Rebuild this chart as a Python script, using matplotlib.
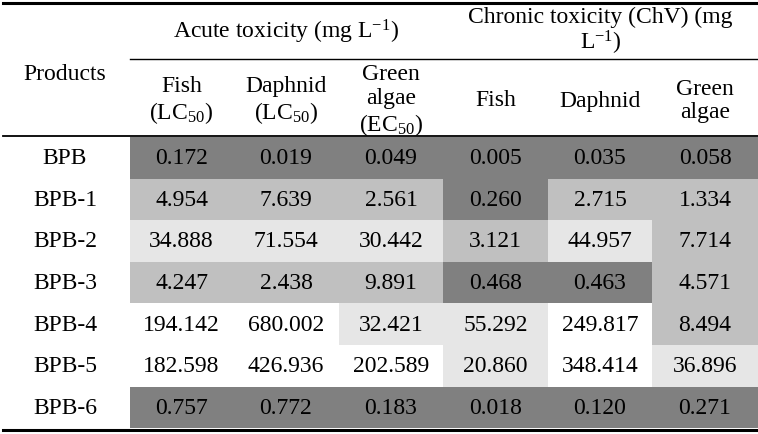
import matplotlib
matplotlib.use('Agg')
import matplotlib.pyplot as plt
from matplotlib.patches import Rectangle
import numpy as np

# table data
products = ['BPB', 'BPB-1', 'BPB-2', 'BPB-3', 'BPB-4', 'BPB-5', 'BPB-6']
acute_fish = [0.172, 4.954, 34.888, 4.247, 194.142, 182.598, 0.757]
acute_daphnid = [0.019, 7.639, 71.554, 2.438, 680.002, 426.936, 0.772]
acute_algae = [0.049, 2.561, 30.442, 9.891, 32.421, 202.589, 0.183]
chronic_fish = [0.005, 0.260, 3.121, 0.468, 55.292, 20.860, 0.018]
chronic_daphnid = [0.035, 2.715, 44.957, 0.463, 249.817, 348.414, 0.120]
chronic_algae = [0.058, 1.334, 7.714, 4.571, 8.494, 36.896, 0.271]

sub_headers = [r'Fish' '\n' r'(LC$_{50}$)', r'Daphnid' '\n' r'(LC$_{50}$)',
               r'Green' '\n' r'algae' '\n' r'(EC$_{50}$)',
               'Fish', 'Daphnid', 'Green\nalgae']

# toxicity classes -> shade
def shade(v):
    if v < 1:
        return '#808080'
    elif v < 10:
        return '#c0c0c0'
    elif v < 100:
        return '#e6e6e6'
    return '#ffffff'

plt.rcParams['font.family'] = ['Liberation Serif', 'DejaVu Serif']
plt.rcParams['mathtext.fontset'] = 'custom'
plt.rcParams['mathtext.rm'] = 'Liberation Serif'
plt.rcParams['mathtext.it'] = 'Liberation Serif'

fig = plt.figure(figsize=(7.58, 4.35), dpi=100)
ax = fig.add_axes([0, 0, 1, 1])
ax.set_xlim(0, 758)
ax.set_ylim(435, 0)
ax.axis('off')

cols = [130, 233, 339, 443, 548, 652, 758]
row_top = 138
row_h = 41.6
fs = 17

data = np.array([acute_fish, acute_daphnid, acute_algae,
                 chronic_fish, chronic_daphnid, chronic_algae]).T

# cells
for i, name in enumerate(products):
    y0 = row_top + i * row_h
    yc = y0 + row_h / 2
    ax.text(65, yc, name, ha='center', va='center', fontsize=fs)
    for j in range(6):
        v = data[i, j]
        ax.add_patch(Rectangle((cols[j], y0), cols[j + 1] - cols[j], row_h,
                               facecolor=shade(v), edgecolor='none'))
        ax.text((cols[j] + cols[j + 1]) / 2, yc, '%.3f' % v,
                ha='center', va='center', fontsize=fs)

# headers
ax.text(65, 75, 'Products', ha='center', va='center', fontsize=fs)
ax.text((cols[0] + cols[3]) / 2, 32, r'Acute toxicity (mg L$^{-1}$)',
        ha='center', va='center', fontsize=fs)
ax.text((cols[3] + cols[6]) / 2, 32, 'Chronic toxicity (ChV) (mg\n' + r'L$^{-1}$)',
        ha='center', va='center', fontsize=fs, linespacing=1.05)
for j, h in enumerate(sub_headers):
    ax.text((cols[j] + cols[j + 1]) / 2, 101, h, ha='center', va='center',
            fontsize=fs, linespacing=1.16)

# rules
ax.plot([3, 758], [3.5, 3.5], color='black', linewidth=2.2)
ax.plot([cols[0], 758], [60, 60], color='black', linewidth=1.0)
ax.plot([3, 758], [137, 137], color='black', linewidth=1.3)
ax.plot([3, 758], [row_top + 7 * row_h + 1.5, row_top + 7 * row_h + 1.5],
        color='black', linewidth=2.2)

plt.savefig('out.png', dpi=100)
